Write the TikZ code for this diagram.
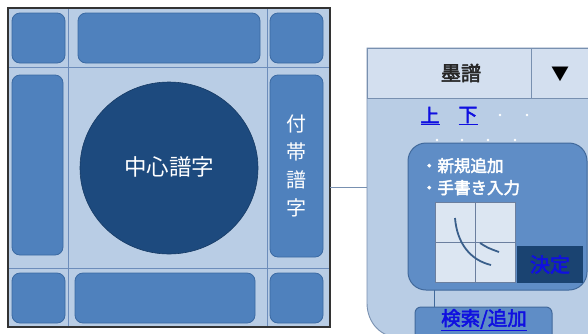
\documentclass[tikz,border=0pt]{standalone}
\usepackage{fontspec}
\newfontfamily\jp{Noto Sans CJK JP}
\newfontfamily\jpb[FakeBold=2.5]{Noto Sans CJK JP}
\usetikzlibrary{shapes.geometric}
\definecolor{bgblue}{HTML}{B9CDE5}
\definecolor{boxblue}{HTML}{4F81BD}
\definecolor{boxline}{HTML}{3B6AA3}
\definecolor{gridline}{HTML}{6D8DBB}
\definecolor{navy}{HTML}{1D4A7E}
\definecolor{headblue}{HTML}{D3DFEF}
\definecolor{panelline}{HTML}{7890B0}
\definecolor{innerblue}{HTML}{5F8DC6}
\definecolor{innerline}{HTML}{41699B}
\definecolor{padfill}{HTML}{DCE6F2}
\definecolor{padline}{HTML}{6B7F9F}
\definecolor{linkblue}{HTML}{1010E0}
\tikzset{
  cell/.style={draw=boxline, line width=0.8pt, fill=boxblue, rounded corners=8pt,
     inner sep=0pt, outer sep=0pt, anchor=north west},
  plain/.style={inner sep=0pt, outer sep=0pt, anchor=north west},
  gline/.style={draw=gridline, line width=0.8pt},
  link/.style={text=linkblue, font=\jpb\fontsize{19}{19}\selectfont, inner sep=0pt},
}
\begin{document}
\begin{tikzpicture}[x=1pt,y=-1pt]
\useasboundingbox (0,0) rectangle (588,333);
\clip (0,0) rectangle (588,333);
\fill[white] (0,0) rectangle (588,333);
% left panel
\node[plain, fill=bgblue, minimum width=322pt, minimum height=319pt] (lp) at (8,8) {};
\draw[gline] (68,8) -- (68,327);
\draw[gline] (267,8) -- (267,327);
\draw[gline] (8,67) -- (330,67);
\draw[gline] (8,268) -- (330,268);
\node[cell, minimum width=53pt, minimum height=50pt] (tl) at (12,13) {};
\node[cell, minimum width=182pt, minimum height=50pt] (tm) at (78,13) {};
\node[cell, minimum width=53pt, minimum height=50pt] (tr) at (270,13) {};
\node[cell, minimum width=51pt, minimum height=180pt] (ml) at (12,75) {};
\node[cell, minimum width=53pt, minimum height=182pt] (mr) at (270,75) {};
\node[cell, minimum width=53pt, minimum height=50pt] (bl) at (12,273) {};
\node[cell, minimum width=180pt, minimum height=50pt] (bm) at (75,273) {};
\node[cell, minimum width=53pt, minimum height=50pt] (br) at (270,273) {};
\draw[black!80, line width=1.2pt] (lp.north west) rectangle (lp.south east);
\node[ellipse, fill=navy, draw=navy!80!black, line width=0.6pt, minimum width=178pt, minimum height=172pt, inner sep=0pt] (c) at (169,168) {};
\node[text=white, font=\jp\fontsize{22.5}{22.5}\selectfont] (ct) at (169,167) {中心譜字};
\node[text=white, font=\jp\fontsize{20}{28}\selectfont, align=center, inner sep=0pt] (ft) at (mr.center) {付\\帯\\譜\\字};
% right panel
\coordinate (pin) at (367,187);
\draw[panelline, fill=bgblue, line width=0.9pt] (600,48) -- (367,48) -- (367,303)
   .. controls (367,322) and (380,338) .. (402,338) -- (600,338);
\node[plain, draw=panelline, fill=headblue, line width=0.9pt, minimum width=240pt, minimum height=50pt] (hd) at (367,48) {};
\draw[panelline, line width=0.9pt] (531,48) -- (531,98);
\node[font=\jpb\fontsize{20}{20}\selectfont, text=black!85] (bokufu) at (461,73) {墨譜};
\node[font=\jp\fontsize{18}{18}\selectfont] (tri) at (560,74) {▼};
\draw[panelline, line width=0.8pt] (lp.east |- pin) -- (pin);
\node[link] (up) at (430,116) {\underline{上}};
\node[link] (down) at (468,116) {\underline{下}};
\foreach \x/\y [count=\i] in {500/115, 527/115, 437/140, 462/140, 488/140, 515/140}
  \fill[white] (\x,\y) circle (1.4pt);
\node[plain, draw=innerline, fill=innerblue, line width=1pt, rounded corners=18pt, minimum width=179pt, minimum height=147pt] (ib) at (408,143) {};
\node[plain, text=white, font=\jpb\fontsize{16.5}{16.5}\selectfont] (l1) at (421,158) {・新規追加};
\node[plain, text=white, font=\jpb\fontsize{16.5}{16.5}\selectfont] (l2) at (421,180) {・手書き入力};
\node[plain, draw=padline, fill=padfill, line width=1pt, minimum width=80pt, minimum height=80pt] (pad) at (435,202) {};
\draw[padline, line width=1pt] (pad.north) -- (pad.south);
\draw[padline, line width=1pt] (pad.west) -- (pad.east);
\draw[innerline!90!black, line width=1.8pt] (455,218) .. controls (457,243) and (470,260) .. (491,265);
\draw[innerline!90!black, line width=1.8pt] (480,243) .. controls (488,248) .. (499,252);
\node[plain, fill=navy!90!black, minimum width=66pt, minimum height=37pt] (ok) at (517,246) {};
\node[link, font=\jpb\fontsize{20}{20}\selectfont] (okt) at (ok.center) {決定};
\coordinate (stem) at (434,307);
\draw[innerline, line width=0.8pt] (434,290) -- (stem);
\node[plain, draw=innerline, fill=innerblue, line width=1pt, rounded corners=6pt, minimum width=137pt, minimum height=40pt] (sb) at (415,307) {};
\node[link, font=\jpb\fontsize{19.5}{19.5}\selectfont] (sbt) at (484,320) {\underline{検索/追加}};
\end{tikzpicture}
\end{document}
